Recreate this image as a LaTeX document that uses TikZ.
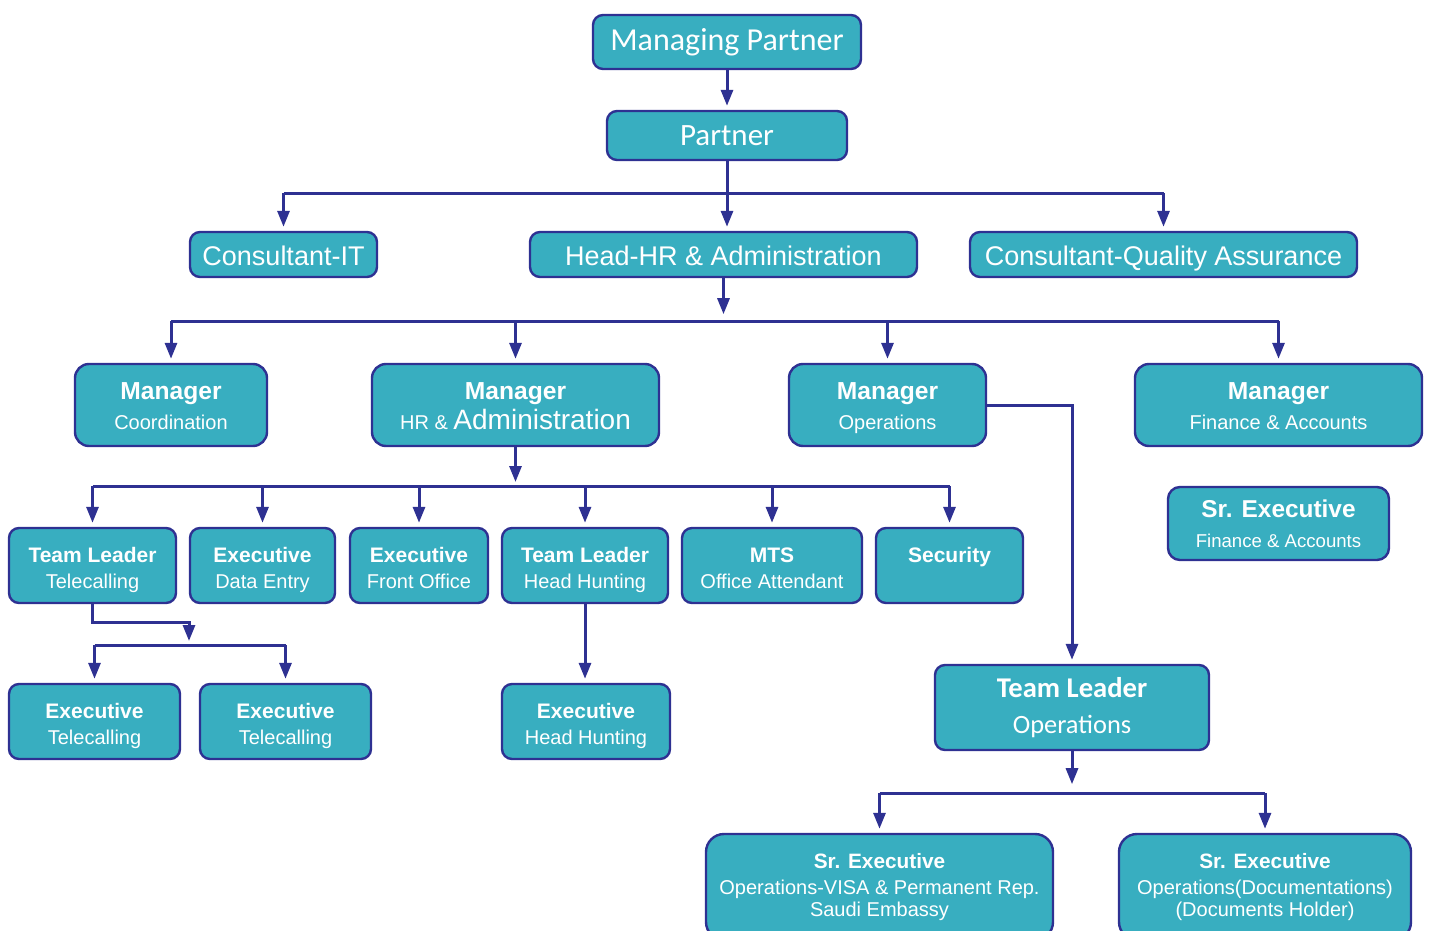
\documentclass[tikz,border=0pt]{standalone}
\usepackage{fontspec}
\setmainfont{Liberation Sans}
\newfontfamily\calibri{Carlito}
\usetikzlibrary{arrows.meta}
\definecolor{boxteal}{RGB}{56,174,192}
\definecolor{lineblue}{RGB}{46,49,146}

\begin{document}
\begin{tikzpicture}
	[x=0.5pt,y=-0.5pt,
	box/.style={draw=lineblue,fill=boxteal,line width=1.2pt,rounded corners=5pt,
		align=center,inner sep=0pt,text=white},
	unit/.style={box,minimum height=37.5pt,text height=25.5pt,text depth=3pt,font=\fontsize{10}{13}\selectfont},
	mgr/.style={box,minimum height=41pt,rounded corners=7pt,text height=27pt,text depth=2.5pt,font=\fontsize{10}{15}\selectfont},
	top/.style={box,minimum height=22.5pt,text height=13.3pt,text depth=2.8pt,font=\fontsize{13.5}{16}\selectfont},
	wire/.style={draw=lineblue,line width=1.5pt},
	feed/.style={wire,-{Triangle[length=8pt,width=6pt]},shorten >=2pt}]
	\useasboundingbox (0,0) rectangle (1429,931);
	
	% top of the tree
	\node[box,minimum width=134pt,minimum height=27pt,font=\calibri\fontsize{16}{19}\selectfont] (mp) at (727,42) {Managing Partner};
	\node[box,minimum width=120pt,minimum height=24.5pt,font=\calibri\fontsize{15.5}{19}\selectfont] (partner) at (727,135.5) {Partner};
	\node[top,minimum width=93.5pt] (cit) at (283.5,254.5) {Consultant-IT};
	\node[top,minimum width=193.5pt] (hhr) at (723.5,254.5) {Head-HR \& Administration};
	\node[top,minimum width=193.5pt] (cqa) at (1163.5,254.5) {Consultant-Quality Assurance};
	
	% managers
	\node[mgr,minimum width=96pt] (mcoord) at (171,405) {{\bfseries\fontsize{12.3}{15}\selectfont Manager}\\Coordination};
	\node[mgr,minimum width=143.5pt] (mhr) at (515.5,405) {{\bfseries\fontsize{12.3}{15}\selectfont Manager}\\HR \& {\fontsize{14}{15}\selectfont Administration}};
	\node[mgr,minimum width=98.5pt] (mops) at (887.5,405) {{\bfseries\fontsize{12.3}{15}\selectfont Manager}\\Operations};
	\node[mgr,minimum width=143.5pt] (mfin) at (1278.5,405) {{\bfseries\fontsize{12.3}{15}\selectfont Manager}\\Finance \& Accounts};
	\node[box,minimum width=110.5pt,minimum height=36.5pt,rounded corners=6pt,text height=26pt,text depth=2.5pt,font=\fontsize{9.3}{15}\selectfont] (sfin) at (1278.5,523.5) {{\bfseries\fontsize{12.2}{15}\selectfont Sr. Executive}\\Finance \& Accounts};
	
	% under HR & Administration
	\node[unit,minimum width=83.5pt] (tltel) at (92.5,565.5) {{\bfseries\fontsize{10.5}{13}\selectfont Team Leader}\\Telecalling};
	\node[unit,minimum width=72.5pt] (exde) at (262.5,565.5) {{\bfseries\fontsize{10.5}{13}\selectfont Executive}\\Data Entry};
	\node[unit,minimum width=69pt] (exfo) at (419,565.5) {{\bfseries\fontsize{10.5}{13}\selectfont Executive}\\Front Office};
	\node[unit,minimum width=83pt] (tlhh) at (585,565.5) {{\bfseries\fontsize{10.5}{13}\selectfont Team Leader}\\Head Hunting};
	\node[unit,minimum width=90pt] (mts) at (772,565.5) {{\bfseries\fontsize{10.5}{13}\selectfont MTS}\\Office Attendant};
	\node[unit,minimum width=73.5pt] (sec) at (949.5,565.5) {{\bfseries\fontsize{10.5}{13}\selectfont Security}\\\phantom{S}};
	\node[unit,minimum width=85.5pt] (extel1) at (94.5,721.5) {{\bfseries\fontsize{10.5}{13}\selectfont Executive}\\Telecalling};
	\node[unit,minimum width=85.5pt] (extel2) at (285.5,721.5) {{\bfseries\fontsize{10.5}{13}\selectfont Executive}\\Telecalling};
	\node[unit,minimum width=84pt] (exhh) at (586,721.5) {{\bfseries\fontsize{10.5}{13}\selectfont Executive}\\Head Hunting};
	
	% operations
	\node[box,minimum width=137pt,minimum height=42.5pt,font=\calibri\fontsize{13.2}{18}\selectfont] (tlops) at (1072,707.5) {{\bfseries\fontsize{14.3}{18}\selectfont Team Leader}\\Operations};
	\node[box,minimum width=173.5pt,minimum height=53pt,rounded corners=9pt,font=\fontsize{10}{11}\selectfont] (sevisa) at (879.5,887) {{\bfseries\fontsize{10.4}{13}\selectfont Sr. Executive}\\[2pt]Operations-VISA \& Permanent Rep.\\Saudi Embassy};
	\node[box,minimum width=146pt,minimum height=53pt,rounded corners=9pt,font=\fontsize{10}{11}\selectfont] (sedoc) at (1265,887) {{\bfseries\fontsize{10.4}{13}\selectfont Sr. Executive}\\[2pt]Operations(Documentations)\\(Documents Holder)};
	
	% connectors
	\draw[feed] (mp) -- (partner);
	\coordinate (pbus) at (727,193);
	\draw[wire] (partner) -- (pbus);
	\draw[wire] (pbus -| cit) -- (pbus -| cqa);
	\foreach \kid in {cit,cqa}
	\draw[feed] (pbus -| \kid) -- (\kid);
	\draw[feed] (pbus) -- (pbus |- hhr.north);
	
	\draw[feed] (hhr.south) -- ++(0,40);
	\coordinate (hbus) at (723,321);
	\draw[wire] (hbus -| mcoord) -- (hbus -| mfin);
	\foreach \kid in {mcoord,mhr,mops,mfin}
	\draw[feed] (hbus -| \kid) -- (\kid);
	
	\coordinate (abus) at (515.5,486);
	\draw[feed] (mhr) -- (abus);
	\draw[wire] (abus -| tltel) -- (abus -| sec);
	\foreach \kid in {tltel,exde,exfo,tlhh,mts,sec}
	\draw[feed] (abus -| \kid) -- (\kid);
	
	\coordinate (tbus) at (189,645);
	\draw[feed] (tltel.south) -- ++(0,18) -| (tbus);
	\draw[wire] (tbus -| extel1) -- (tbus -| extel2);
	\foreach \kid in {extel1,extel2}
	\draw[feed] (tbus -| \kid) -- (\kid);
	
	\draw[feed] (tlhh.south) -- (tlhh.south |- exhh.north);
	
	\draw[feed] (mops.east) -| (tlops);
	\draw[feed] (tlops.south) -- ++(0,37);
	\coordinate (obus) at (1072,793);
	\draw[wire] (obus -| sevisa) -- (obus -| sedoc);
	\foreach \kid in {sevisa,sedoc}
	\draw[feed] (obus -| \kid) -- (\kid);
	
\end{tikzpicture}
\end{document}
